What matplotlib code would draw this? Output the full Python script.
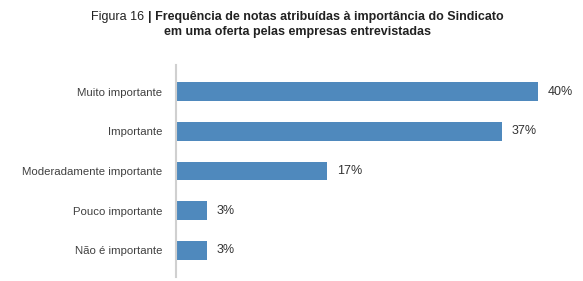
import matplotlib
matplotlib.use("Agg")
import matplotlib.pyplot as plt

# Data
categories = ["Muito importante", "Importante", "Moderadamente importante",
              "Pouco importante", "Não é importante"]
values = [40.0, 36.0, 16.7, 3.4, 3.4]
value_labels = ["40%", "37%", "17%", "3%", "3%"]

plt.rcParams["font.family"] = ["Liberation Sans", "DejaVu Sans"]

fig = plt.figure(figsize=(5.83, 2.81), dpi=100)
ax = fig.add_axes([176 / 583, 4 / 281, (538 - 176) / 583, (277 - 65) / 281])

ypos = list(range(len(categories)))
ax.barh(ypos, values, height=0.48, color="#4f89bd")
for y, v, lab in zip(ypos, values, value_labels):
    ax.text(v + 1.1, y, lab, va="center", ha="left", fontsize=9, color="#333333", clip_on=False)

ax.set_xlim(0, 40)
ax.set_ylim(4.68, -0.68)
ax.set_yticks(ypos)
ax.set_yticklabels(categories, fontsize=8.2, color="#404040")
ax.tick_params(axis="y", length=0, pad=10)
ax.set_xticks([])
for s in ["top", "right", "bottom"]:
    ax.spines[s].set_visible(False)
ax.spines["left"].set_color("#d0d0d0")
ax.spines["left"].set_linewidth(1.5)

# Title: regular prefix + bold rest, centred as one line
fig.canvas.draw()
r = fig.canvas.get_renderer()
t1 = fig.text(0, 0, "Figura 16 ", fontsize=9, color="#222222")
t2 = fig.text(0, 0, "| Frequência de notas atribuídas à importância do Sindicato",
              fontsize=9, fontweight="bold", color="#222222")
w1 = t1.get_window_extent(r).width
w2 = t2.get_window_extent(r).width
x0 = (297.5 - (w1 + w2) / 2) / 583
ytop = 1 - 17 / 281
t1.set_position((x0, ytop))
t1.set_va("center")
t2.set_position((x0 + w1 / 583, ytop))
t2.set_va("center")
fig.text(297.5 / 583, 1 - 32 / 281, "em uma oferta pelas empresas entrevistadas",
         fontsize=9, fontweight="bold", color="#222222", ha="center", va="center")

fig.savefig("out.png", dpi=100)
